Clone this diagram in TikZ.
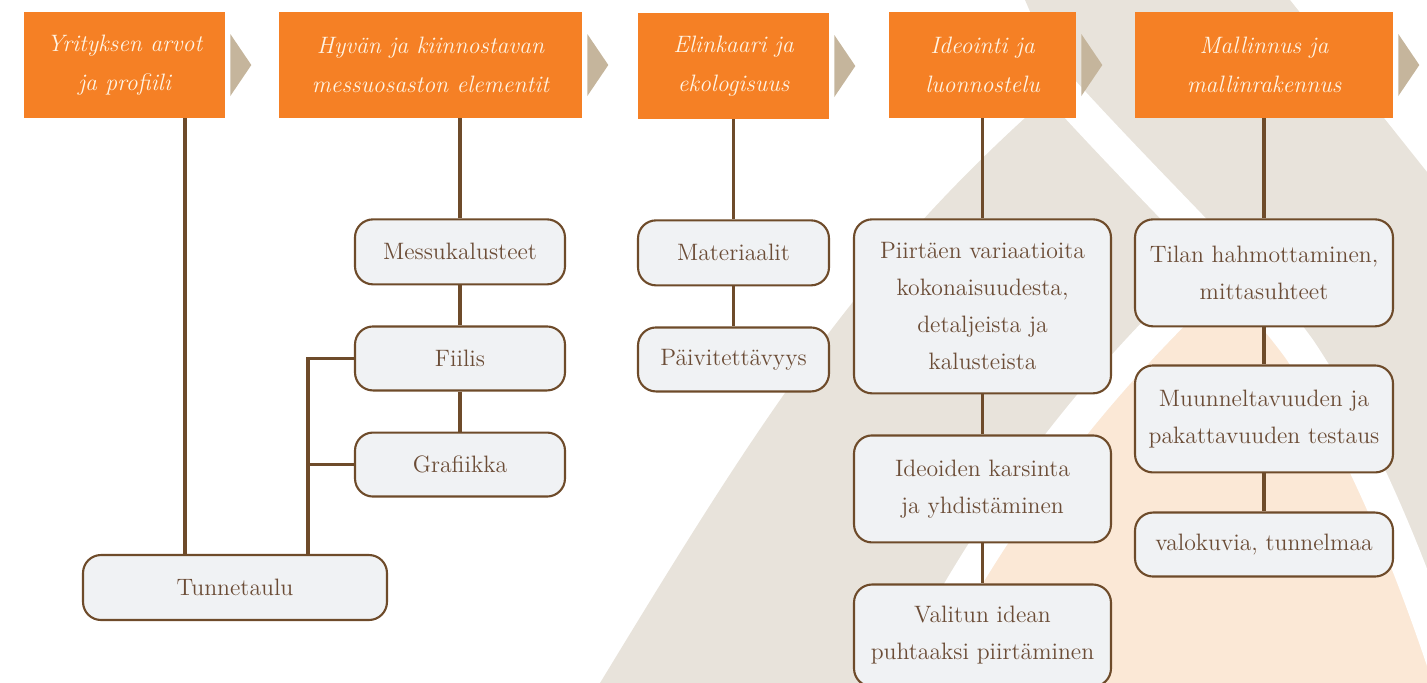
\documentclass[tikz,border=0pt]{standalone}
\usepackage{fontspec}
\usetikzlibrary{positioning}

\definecolor{hdrorange}{HTML}{F58025}
\definecolor{hdrtext}{HTML}{FFF4E4}
\definecolor{chevtan}{HTML}{C5B59C}
\definecolor{linkbrown}{HTML}{6E4B2A}
\definecolor{itemtext}{HTML}{6B4C36}
\definecolor{itemfill}{HTML}{F0F2F4}
\definecolor{bgbeige}{HTML}{E8E3DB}
\definecolor{bgpeach}{HTML}{FBE8D6}

\begin{document}
\begin{tikzpicture}[
	                 x = 0.02cm,
	                 y = -0.02cm,
	     node distance = 8mm,
	     header/.style = {fill=hdrorange, text=hdrtext, minimum height=2.12cm, inner sep=0pt,
	                      align=center, font=\fontsize{13.5}{22.5}\selectfont\itshape},
	       item/.style = {draw=linkbrown, line width=1.2pt, fill=itemfill, rounded corners=3.6mm,
	                      text=itemtext, inner sep=0pt, align=center, font=\fontsize{13.5}{21}\selectfont},
	       link/.style = {draw=linkbrown, line width=2pt},
	    chevron/.style = {fill=chevtan},
	        gap/.style = {draw=white, line width=6.6mm}
	                     ]
	\useasboundingbox (0,0) rectangle (1427,683);

	% background
	\fill[bgbeige] (1025,0) -- (1290,0) -- (1427,172) -- (1427,683) -- (600,683)
		.. controls (760,420) and (860,260) .. (1062,85) -- cycle;
	\fill[bgpeach] (1240,250) .. controls (1130,350) and (1010,480) .. (905,690) -- (1450,690)
		.. controls (1410,560) and (1360,440) .. (1300,350) -- cycle;
	\draw[gap] (1240,250) .. controls (1130,350) and (1010,480) .. (905,690);
	\draw[gap] (1030,55) .. controls (1150,190) and (1250,280) .. (1300,350)
		.. controls (1360,440) and (1410,560) .. (1450,683);

	% headers
	\node[header, minimum width=4.02cm] (h1) at (124.5,65) {Yrityksen arvot\\ja profiili};
	\node[header, minimum width=6.06cm] (h2) at (430.5,65) {Hyvän ja kiinnostavan\\messuosaston elementit};
	\node[header, minimum width=3.82cm] (h3) at (733.5,66) {Elinkaari ja\\ekologisuus};
	\node[header, minimum width=3.74cm] (h4) at (982.5,65) {Ideointi ja\\luonnostelu};
	\node[header, minimum width=5.16cm] (h5) at (1264,65) {Mallinnus ja\\mallinrakennus};
	\foreach \h in {h1,h2,h3,h4,h5}
		\fill[chevron] ([xshift=1mm,yshift=6.2mm]\h.east) -- ++(21,31) -- ++(-21,31) -- cycle;

	% column 1 and 2
	\node[item, minimum width=6.08cm, minimum height=1.3cm] (tn) at (235,587.5) {Tunnetaulu};
	\node[item, minimum width=4.2cm, minimum height=1.3cm, below=2cm of h2, xshift=5.9mm] (mk) {Messukalusteet};
	\node[item, minimum width=4.2cm, minimum height=1.28cm, below=of mk] (fi) {Fiilis};
	\node[item, minimum width=4.2cm, minimum height=1.28cm, below=of fi] (gr) {Grafiikka};
	\coordinate (c1) at (185,300);
	\coordinate (br) at (308,300);

	% column 3
	\node[item, minimum width=3.82cm, minimum height=1.3cm, below=2cm of h3] (ma) {Materiaalit};
	\node[item, minimum width=3.82cm, minimum height=1.28cm, below=of ma] (pa) {Päivitettävyys};

	% column 4
	\node[item, minimum width=5.14cm, minimum height=3.48cm, below=2cm of h4] (pv)
		{Piirtäen variaatioita\\kokonaisuudesta,\\detaljeista ja\\kalusteista};
	\node[item, minimum width=5.14cm, minimum height=2.14cm, below=of pv] (ik) {Ideoiden karsinta\\ja yhdistäminen};
	\node[item, minimum width=5.14cm, minimum height=2.04cm, below=of ik] (vi) {Valitun idean\\puhtaaksi piirtäminen};

	% column 5
	\node[item, minimum width=5.16cm, minimum height=2.14cm, below=2cm of h5] (th) {Tilan hahmottaminen,\\mittasuhteet};
	\node[item, minimum width=5.16cm, minimum height=2.14cm, below=7.4mm of th] (mu) {Muunneltavuuden ja\\pakattavuuden testaus};
	\node[item, minimum width=5.16cm, minimum height=1.28cm, below=7.6mm of mu] (vk) {valokuvia, tunnelmaa};

	% connectors
	\draw[link] (h1.south -| c1) -- (tn.north -| c1);
	\draw[link] (mk.north) -- (mk.north |- h2.south);
	\draw[link] (mk) -- (fi);
	\draw[link] (fi) -- (gr);
	\draw[link] (fi.west) -- (fi.west -| br) -- (tn.north -| br);
	\draw[link] (gr.west) -- (gr.west -| br);
	\draw[link] (h3) -- (ma);
	\draw[link] (ma) -- (pa);
	\draw[link] (h4) -- (pv);
	\draw[link] (pv) -- (ik);
	\draw[link] (ik) -- (vi);
	\draw[link] (h5) -- (th);
	\draw[link] (th) -- (mu);
	\draw[link] (mu) -- (vk);
\end{tikzpicture}
\end{document}
